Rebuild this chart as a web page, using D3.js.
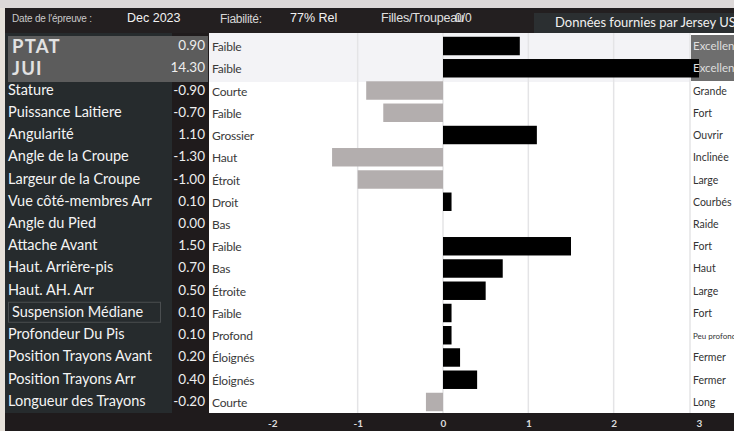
<!DOCTYPE html>
<html>
<head>
<meta charset="utf-8">
<script src="https://cdn.jsdelivr.net/npm/d3@7"></script>
<style>
  html, body { margin: 0; padding: 0; background: #1f1b1c; }
  svg { display: block; }
</style>
</head>
<body>
<div id="chart"></div>
<script>
// donnees
var traits = ["PTAT", "JUI", "Stature", "Puissance Laitiere", "Angularité", "Angle de la Croupe",
  "Largeur de la Croupe", "Vue côté-membres Arr", "Angle du Pied", "Attache Avant",
  "Haut. Arrière-pis", "Haut. AH. Arr", "Suspension Médiane", "Profondeur Du Pis",
  "Position Trayons Avant", "Position Trayons Arr", "Longueur des Trayons"];
var values = [0.90, 14.30, -0.90, -0.70, 1.10, -1.30, -1.00, 0.10, 0.00, 1.50, 0.70, 0.50, 0.10, 0.10, 0.20, 0.40, -0.20];
var lowLabels = ["Faible", "Faible", "Courte", "Faible", "Grossier", "Haut", "Étroit", "Droit", "Bas", "Faible",
  "Bas", "Étroite", "Faible", "Profond", "Éloignés", "Éloignés", "Courte"];
var highLabels = ["Excellent", "Excellent", "Grande", "Fort", "Ouvrir", "Inclinée", "Large", "Courbés", "Raide", "Fort",
  "Haut", "Large", "Fort", "Peu profond", "Fermer", "Fermer", "Long"];
var tickValues = [-2, -1, 0, 1, 2, 3];
var gridValues = [-1, 0, 1, 2];

var W = 734, H = 431;
var plotLeft = 209, plotRight = 690, plotTop = 33, plotBottom = 413;

// tiret simple au lieu du signe moins unicode
var fmt2 = function(v) { return v.toFixed(2); };
var fmtTick = function(v) { return String(v); };

var svg = d3.select("#chart").append("svg")
  .attr("width", W).attr("height", H)
  .style("font-family", "Lato, 'Open Sans', sans-serif");

// fond
svg.append("rect").attr("width", W).attr("height", H).attr("fill", "#1f1b1c");
svg.append("rect").attr("width", W).attr("height", 8).attr("fill", "#dcd8d8");
svg.append("rect").attr("y", 8).attr("width", 5).attr("height", H - 8).attr("fill", "#e6e1da");
svg.append("rect").attr("x", 5).attr("y", 8).attr("width", W - 5).attr("height", 25).attr("fill", "#231f20");

var x = d3.scaleLinear().domain([-3, 3]).range([187, 699]).clamp(true);
var y = d3.scaleBand().domain(traits).range([35, 413]).paddingInner(0.17).paddingOuter(0.08);

// entete
var header = svg.append("g").style("font-family", "'Liberation Sans', sans-serif");
header.append("text").attr("x", 12).attr("y", 22).attr("fill", "#c9c9c9")
  .style("font-size", "10px").style("letter-spacing", "-0.2px").text("Date de l'épreuve :");
header.append("text").attr("x", 127).attr("y", 22).attr("fill", "#f2f2f2")
  .style("font-size", "12.5px").text("Dec 2023");
header.append("text").attr("x", 220).attr("y", 23).attr("fill", "#d6d6d6")
  .style("font-size", "12px").style("letter-spacing", "-0.3px").text("Fiabilité:");
header.append("text").attr("x", 290).attr("y", 22).attr("fill", "#f2f2f2")
  .style("font-size", "12.5px").text("77% Rel");
header.append("text").attr("x", 381).attr("y", 22).attr("fill", "#e0e0e0")
  .style("font-size", "12.5px").style("letter-spacing", "-0.2px").text("Filles/Troupeau");
header.append("text").attr("x", 455).attr("y", 22).attr("fill", "#e0e0e0")
  .style("font-size", "12px").text("0/0");
header.append("rect").attr("x", 534).attr("y", 13).attr("width", W - 534).attr("height", 20).attr("fill", "#2b2f31");
header.append("text").attr("x", 555).attr("y", 27).attr("fill", "#f0f0f0")
  .style("font-family", "Lato, sans-serif")
  .style("font-size", "13px").text("Données fournies par  Jersey US");

// panneau gauche
svg.append("rect").attr("x", 5).attr("y", 33).attr("width", 167).attr("height", 382).attr("fill", "#262b2d");
svg.append("rect").attr("x", 8).attr("y", 36).attr("width", 200).attr("height", 46).attr("fill", "#5c5c5c");

// zone du graphique
svg.append("rect").attr("x", plotLeft).attr("y", plotTop).attr("width", plotRight - plotLeft).attr("height", plotBottom - plotTop).attr("fill", "#ffffff");
svg.append("rect").attr("x", plotLeft).attr("y", plotTop).attr("width", plotRight - plotLeft).attr("height", 49).attr("fill", "#f3f3f6");
svg.append("rect").attr("x", plotRight).attr("y", plotTop).attr("width", W - plotRight).attr("height", plotBottom - plotTop).attr("fill", "#ffffff");
svg.append("rect").attr("x", plotRight + 1).attr("y", 35).attr("width", W - plotRight).attr("height", 46).attr("fill", "#6e6e6e");

svg.selectAll("line.grid").data(gridValues).enter().append("line")
  .attr("class", "grid")
  .attr("x1", function(d) { return x(d); }).attr("x2", function(d) { return x(d); })
  .attr("y1", plotTop).attr("y2", plotBottom)
  .attr("stroke", "#e4e4e6").attr("stroke-width", 1.5);
svg.append("line").attr("x1", plotRight).attr("x2", plotRight).attr("y1", plotTop).attr("y2", plotBottom)
  .attr("stroke", "#e4e4e6").attr("stroke-width", 1.5);

// barres
svg.selectAll("rect.bar").data(values).enter().append("rect")
  .attr("class", "bar")
  .attr("x", function(d) { return x(Math.min(0, d)); })
  .attr("width", function(d) { return Math.abs(x(d) - x(0)); })
  .attr("y", function(d, i) { return y(traits[i]); })
  .attr("height", y.bandwidth())
  .attr("fill", function(d) { return d < 0 ? "#b3aeae" : "#000000"; });

// libelles gauche
var rows = svg.selectAll("g.row").data(traits).enter().append("g")
  .attr("class", "row")
  .attr("transform", function(d) { return "translate(0," + (y(d) + y.bandwidth() / 2) + ")"; });

rows.append("text")
  .attr("x", function(d, i) { return i == 12 ? 12 : (i < 2 ? 12 : 8); })
  .attr("y", function(d, i) { return i < 2 ? 7 : 4; })
  .attr("fill", function(d, i) { return i < 2 ? "#e2e2e2" : "#f4f4f4"; })
  .style("font-size", function(d, i) { return i < 2 ? "18.5px" : "14.5px"; })
  .style("letter-spacing", function(d, i) { return i < 2 ? "1.2px" : null; })
  .style("font-weight", function(d, i) { return i < 2 ? "bold" : "normal"; })
  .text(function(d) { return d; });

rows.append("text")
  .attr("x", 205).attr("y", 4)
  .attr("text-anchor", "end")
  .attr("fill", "#eeeeee")
  .style("font-size", "13.5px")
  .text(function(d, i) { return fmt2(values[i]); });

rows.append("text")
  .attr("x", 212).attr("y", 5)
  .attr("fill", "#3a3a3a")
  .style("font-size", "12px")
  .style("letter-spacing", "-0.2px")
  .text(function(d, i) { return lowLabels[i]; });

rows.append("text")
  .attr("x", 693).attr("y", 4)
  .attr("fill", function(d, i) { return i < 2 ? "#dedede" : "#333333"; })
  .style("font-size", function(d, i) { return highLabels[i] == "Peu profond" ? "8px" : (i < 2 ? "11.5px" : "10.5px"); })
  .text(function(d, i) { return highLabels[i]; });

// cadre Suspension Mediane
var sm = y("Suspension Médiane");
svg.append("rect").attr("x", 8.5).attr("y", sm - 1.5).attr("width", 152).attr("height", 20)
  .attr("fill", "none").attr("stroke", "#4a4e50").attr("stroke-width", 1);

// axe
svg.append("rect").attr("x", 5).attr("y", plotBottom).attr("width", W - 5).attr("height", H - plotBottom).attr("fill", "#1f1b1c");
var axis = svg.append("g")
  .attr("transform", "translate(0," + plotBottom + ")")
  .call(d3.axisBottom(x).tickValues(tickValues).tickSize(0).tickPadding(7).tickFormat(fmtTick));
axis.select(".domain").remove();
axis.selectAll("text").attr("fill", "#dcdcdc").style("font-size", "10px").style("font-weight", "bold")
  .style("font-family", "Lato, sans-serif");
</script>
</body>
</html>
